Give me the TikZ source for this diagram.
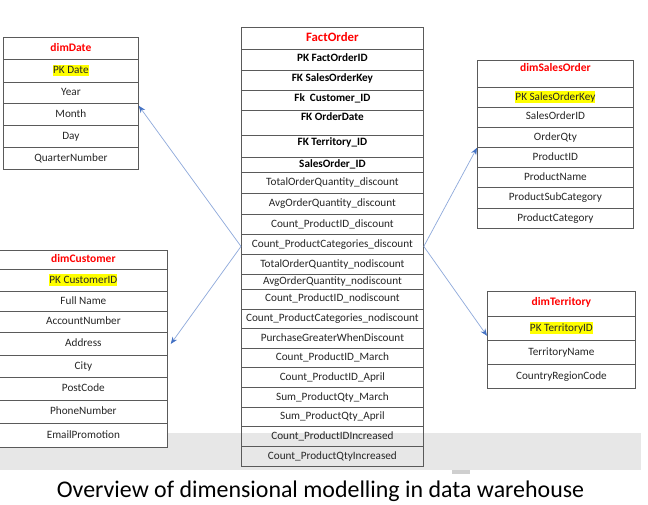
\documentclass[tikz,border=0pt]{standalone}
\usepackage{fontspec}
\setmainfont{Carlito}
\usetikzlibrary{arrows.meta}
\definecolor{linec}{HTML}{5A5A5A}
\definecolor{textc}{HTML}{262626}
\definecolor{titlered}{HTML}{FF0000}
\definecolor{hly}{HTML}{FFFF00}
\definecolor{arrline}{HTML}{8EA9DB}
\definecolor{arrtip}{HTML}{4472C4}
\definecolor{band}{HTML}{E7E7E7}
\definecolor{bandmark}{HTML}{CFCFCF}
\newcommand\hlt[1]{{\setlength{\fboxsep}{0pt}\colorbox{hly}{\rule[-2.8pt]{0pt}{11.5pt}#1}}}
\tikzset{
 cell/.style={draw=linec, line width=0.8pt, inner sep=0pt, anchor=north west, text=textc,
   text height=8pt, text depth=2.5pt, font=\fontsize{11.2}{13}\selectfont},
 ttl/.style={font=\fontsize{11.5}{13}\selectfont\bfseries, text=titlered},
 bcell/.style={font=\fontsize{11.2}{13}\selectfont\bfseries, text=black},
 link/.style={draw=arrline, line width=0.7pt, -{Stealth[length=7pt,width=5.5pt,color=arrtip]}},
}
\begin{document}
\begin{tikzpicture}[x=1pt,y=-1pt]
\useasboundingbox (0,0) rectangle (648,505);
\fill[white] (0,0) rectangle (648,505);
\fill[band] (0,433) rectangle (641,470);
\fill[bandmark] (452,470) rectangle (470,474);

% dimDate
\begin{scope}[every node/.append style={minimum width=135pt}]
\node[cell, ttl, minimum height=22pt] (dd0) at (3,37) {dimDate};
\node[cell, minimum height=23pt] (dd1) at (3,59) {\hlt{PK Date}};
\node[cell, minimum height=21pt] (dd2) at (3,82) {Year};
\node[cell, minimum height=22pt] (dd3) at (3,103) {Month};
\node[cell, minimum height=22pt] (dd4) at (3,125) {Day};
\node[cell, minimum height=22pt] (dd5) at (3,147) {QuarterNumber};
\end{scope}

% dimCustomer
\begin{scope}[every node/.append style={minimum width=168pt, fill=white}]
\node[cell, ttl, minimum height=19pt] (dc0) at (-1,250) {dimCustomer};
\node[cell, minimum height=22pt] (dc1) at (-1,269) {\hlt{PK CustomerID}};
\node[cell, minimum height=20pt] (dc2) at (-1,291) {Full Name};
\node[cell, minimum height=21pt] (dc3) at (-1,311) {AccountNumber};
\node[cell, minimum height=23pt] (dc4) at (-1,332) {Address};
\node[cell, minimum height=22pt] (dc5) at (-1,355) {City};
\node[cell, minimum height=23pt] (dc6) at (-1,377) {PostCode};
\node[cell, minimum height=23pt] (dc7) at (-1,400) {PhoneNumber};
\node[cell, minimum height=24pt] (dc8) at (-1,423) {EmailPromotion};
\end{scope}

% FactOrder
\begin{scope}[every node/.append style={minimum width=182pt}]
\node[cell, ttl, font=\fontsize{12.8}{15}\selectfont\bfseries, minimum height=22pt] (f0) at (241,27) {FactOrder};
\node[cell, bcell, text depth=5pt, minimum height=21pt] (f1) at (241,49) {PK FactOrderID};
\node[cell, bcell, text depth=5pt, minimum height=20pt] (f2) at (241,70) {FK SalesOrderKey};
\node[cell, bcell, text depth=5pt, minimum height=20pt] (f3) at (241,90) {Fk~~Customer\_ID};
\node[cell, bcell, text depth=13pt, minimum height=25pt] (f4) at (241,110) {FK OrderDate};
\node[cell, bcell, text depth=10pt, minimum height=22pt] (f5) at (241,135) {FK Territory\_ID};
\node[cell, bcell, minimum height=15pt] (f6) at (241,157) {SalesOrder\_ID};
\node[cell, minimum height=21pt] (f7) at (241,172) {TotalOrderQuantity\_discount};
\node[cell, minimum height=21pt] (f8) at (241,193) {AvgOrderQuantity\_discount};
\node[cell, minimum height=20pt] (f9) at (241,214) {Count\_ProductID\_discount};
\node[cell, minimum height=20pt] (f10) at (241,234) {Count\_ProductCategories\_discount};
\node[cell, minimum height=20pt] (f11) at (241,254) {TotalOrderQuantity\_nodiscount};
\node[cell, minimum height=15pt] (f12) at (241,274) {AvgOrderQuantity\_nodiscount};
\node[cell, text depth=4pt, minimum height=20pt] (f13) at (241,289) {Count\_ProductID\_nodiscount};
\node[cell, minimum height=19pt] (f14) at (241,309) {Count\_ProductCategories\_nodiscount};
\node[cell, minimum height=20pt] (f15) at (241,328) {PurchaseGreaterWhenDiscount};
\node[cell, minimum height=19pt] (f16) at (241,348) {Count\_ProductID\_March};
\node[cell, minimum height=20pt] (f17) at (241,367) {Count\_ProductID\_April};
\node[cell, minimum height=20pt] (f18) at (241,387) {Sum\_ProductQty\_March};
\node[cell, minimum height=19pt] (f19) at (241,407) {Sum\_ProductQty\_April};
\node[cell, minimum height=20pt] (f20) at (241,426) {Count\_ProductIDIncreased};
\node[cell, minimum height=20pt] (f21) at (241,446) {Count\_ProductQtyIncreased};
\end{scope}

% dimSalesOrder
\begin{scope}[every node/.append style={minimum width=156pt}]
\node[cell, ttl, text depth=13.5pt, minimum height=27pt] (ds0) at (477,60) {dimSalesOrder};
\node[cell, minimum height=20pt] (ds1) at (477,87) {\hlt{PK SalesOrderKey}};
\node[cell, text depth=4pt, minimum height=20pt] (ds2) at (477,107) {SalesOrderID};
\node[cell, minimum height=20pt] (ds3) at (477,127) {OrderQty};
\node[cell, minimum height=20pt] (ds4) at (477,147) {ProductID};
\node[cell, minimum height=20pt] (ds5) at (477,167) {ProductName};
\node[cell, minimum height=21pt] (ds6) at (477,187) {ProductSubCategory};
\node[cell, minimum height=20pt] (ds7) at (477,208) {ProductCategory};
\end{scope}

% dimTerritory
\begin{scope}[every node/.append style={minimum width=148pt}]
\node[cell, ttl, text depth=5pt, minimum height=25pt] (dt0) at (487,291) {dimTerritory};
\node[cell, minimum height=24pt] (dt1) at (487,316) {\hlt{PK TerritoryID}};
\node[cell, minimum height=24pt] (dt2) at (487,340) {TerritoryName};
\node[cell, minimum height=24pt] (dt3) at (487,364) {CountryRegionCode};
\end{scope}

% connectors
\draw[link] ([yshift=-2pt]f10.west) -- ([yshift=-2pt]dd2.south east);
\draw[link] ([yshift=-2pt]f10.west) -- ([xshift=3pt]dc4.east);
\draw[link] ([yshift=-2pt]f10.east) -- (ds3.south west);
\draw[link] ([yshift=-2pt]f10.east) -- ([yshift=5pt]dt1.south west);

% caption
\node[font=\fontsize{23.9}{28}\selectfont, inner sep=0pt] (cap) at (320.5,491) {Overview of dimensional modelling in data warehouse};
\end{tikzpicture}
\end{document}
